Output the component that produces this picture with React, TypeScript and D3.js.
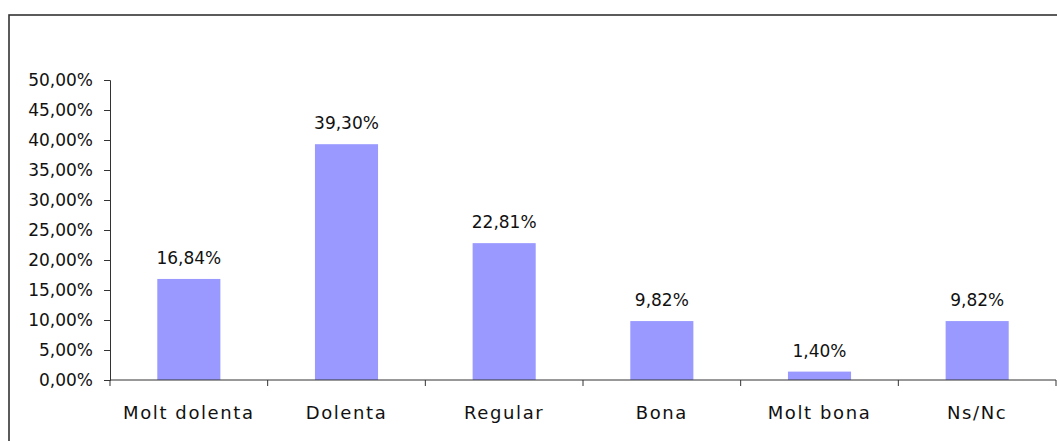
import React, { useEffect, useRef } from "react";
import * as d3 from "d3";

const categories: string[] = ["Molt dolenta", "Dolenta", "Regular", "Bona", "Molt bona", "Ns/Nc"];
const values: number[] = [0.1684, 0.393, 0.2281, 0.0982, 0.014, 0.0982];
const yTicks: number[] = [0, 0.05, 0.1, 0.15, 0.2, 0.25, 0.3, 0.35, 0.4, 0.45, 0.5];

const W = 1057;
const H = 441;

export default function App() {
  const ref = useRef<SVGSVGElement | null>(null);

  useEffect(() => {
    const svg = d3.select(ref.current);
    svg.selectAll("*").remove();

    const locale = d3.formatLocale({ decimal: ",", thousands: ".", grouping: [3], currency: ["", "€"] });
    const fmt = locale.format(".2%");

    const left = 110, right = 1056, top = 80, bottom = 380;
    const x = d3.scaleBand<string>().domain(categories).range([left, right]).paddingInner(0.6).paddingOuter(0.3);
    const y = d3.scaleLinear().domain([0, 0.5]).range([bottom, top]);

    const font = "'DejaVu Sans', sans-serif";

    // frame
    svg.append("rect")
      .attr("x", 9).attr("y", 15).attr("width", 1100).attr("height", 500)
      .attr("fill", "none").attr("stroke", "#333").attr("stroke-width", 1.6);

    // bars
    svg.append("g").selectAll("rect").data(values).join("rect")
      .attr("x", (_d, i) => x(categories[i])!)
      .attr("y", (d) => y(d))
      .attr("width", x.bandwidth())
      .attr("height", (d) => y(0) - y(d))
      .attr("fill", "#9999FF");

    // data labels
    svg.append("g").selectAll("text").data(values).join("text")
      .attr("x", (_d, i) => x(categories[i])! + x.bandwidth() / 2)
      .attr("y", (d) => y(d) - 15)
      .attr("text-anchor", "middle")
      .attr("font-family", font).attr("font-size", 17).attr("fill", "#111")
      .text((d) => fmt(d));

    // y axis
    const yAxis = d3.axisLeft(y).tickValues(yTicks).tickSize(6).tickPadding(11).tickFormat((d) => fmt(d as number));
    const gy = svg.append("g").attr("transform", `translate(${left},0)`).call(yAxis);
    gy.select(".domain").attr("stroke", "#333");
    gy.selectAll(".tick line").attr("stroke", "#333");
    gy.selectAll(".tick text").attr("font-family", font).attr("font-size", 17).attr("fill", "#111");

    // x axis
    const step = x.step();
    const boundaries = d3.range(categories.length + 1).map((i) => left + i * step);
    const gx = svg.append("g");
    gx.append("line").attr("x1", left).attr("x2", right).attr("y1", bottom).attr("y2", bottom).attr("stroke", "#333");
    gx.selectAll("line.t").data(boundaries).join("line").attr("class", "t")
      .attr("x1", (d) => d).attr("x2", (d) => d).attr("y1", bottom).attr("y2", bottom + 6).attr("stroke", "#333");
    gx.selectAll("text").data(categories).join("text")
      .attr("x", (d) => x(d)! + x.bandwidth() / 2)
      .attr("y", bottom + 39)
      .attr("text-anchor", "middle")
      .attr("font-family", font).attr("font-size", 18).attr("letter-spacing", 1.6).attr("fill", "#111")
      .text((d) => d);
  }, []);

  return (
    <svg ref={ref} width={W} height={H} style={{ position: "absolute", left: 0, top: 0, background: "#fff" }} />
  );
}
